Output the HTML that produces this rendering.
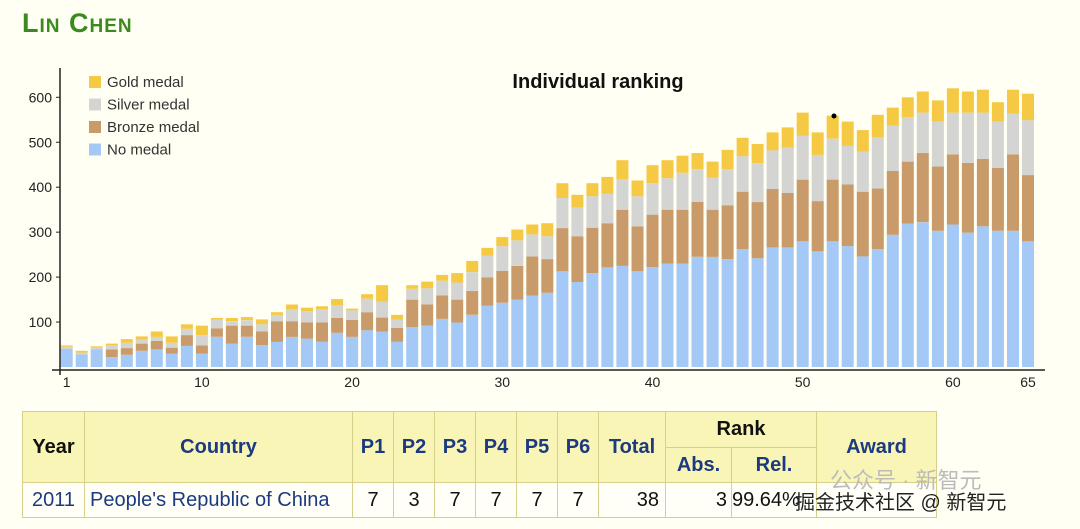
<!DOCTYPE html>
<html><head><meta charset="utf-8"><style>
body{margin:0;width:1080px;height:529px;background:#fffff4;overflow:hidden;font-family:"Liberation Sans",sans-serif;position:relative}
h1{position:absolute;left:22px;top:8px;margin:0;font-size:27px;color:#3a8a1e;font-variant:small-caps;font-weight:bold;letter-spacing:1px}
svg{position:absolute;left:0;top:0}
table{position:absolute;left:22px;top:411px;border-collapse:collapse;font-size:20px}
td,th{border:1.5px solid #d6d08a;padding:0;text-align:center}
th{background:#f9f5b6;color:#1c3a80;font-weight:bold}
td{background:#fffff8;color:#111;height:34px}
.l{color:#1c3a80}
.wm{position:absolute;left:795px;top:486px;font-size:20px;color:#222;font-family:"Liberation Sans","Noto Sans CJK SC",sans-serif}
.wm2{position:absolute;left:830px;top:463px;font-size:22px;color:#bbb;font-family:"Liberation Sans","Noto Sans CJK SC",sans-serif}
</style></head><body>
<h1>Lin Chen</h1>
<svg id="c" width="1080" height="400" font-family="Liberation Sans, sans-serif"></svg>
<table>
<tr><th rowspan="2" style="width:61px;height:70px;color:#111">Year</th><th rowspan="2" style="width:267px">Country</th><th rowspan="2" style="width:40px">P1</th><th rowspan="2" style="width:40px">P2</th><th rowspan="2" style="width:40px">P3</th><th rowspan="2" style="width:40px">P4</th><th rowspan="2" style="width:40px">P5</th><th rowspan="2" style="width:40px">P6</th><th rowspan="2" style="width:66px">Total</th><th colspan="2" style="height:35px;color:#111">Rank</th><th rowspan="2" style="width:119px">Award</th></tr>
<tr><th style="width:65px;height:34px">Abs.</th><th style="width:84px">Rel.</th></tr>
<tr><td class="l">2011</td><td class="l" style="text-align:left;padding-left:5px">People's Republic of China</td><td>7</td><td>3</td><td>7</td><td>7</td><td>7</td><td>7</td><td style="text-align:right;padding-right:6px">38</td><td style="text-align:right;padding-right:4px">3</td><td style="text-align:left">99.64%</td><td></td></tr>
</table>
<div class="wm2">公众号 · 新智元</div>
<div class="wm">掘金技术社区 @ 新智元</div>
<script>
var d=[[40,40,45,48],[28,28,32,36],[39,39,43,46],[22,39,48,52],[27,42,54,62],[36,52,61,68],[39,58,67,79],[30,43,54,68],[47,71,85,95],[30,48,71,92],[67,86,105,109],[52,92,102,109],[67,92,104,111],[49,79,95,106],[56,102,116,122],[67,102,128,139],[63,99,124,132],[56,99,128,135],[76,109,137,151],[67,105,126,130],[82,122,152,162],[79,110,145,182],[56,87,105,116],[89,150,174,182],[92,139,175,190],[107,159,192,205],[99,150,188,209],[116,169,211,236],[136,199,248,265],[143,214,269,289],[150,225,282,306],[159,246,295,317],[165,240,291,320],[213,309,376,409],[189,291,354,383],[209,310,380,409],[222,320,386,423],[225,350,418,460],[213,313,380,415],[222,339,409,449],[230,350,420,460],[230,350,432,470],[245,367,440,476],[245,350,421,457],[240,360,440,483],[262,390,469,510],[242,367,453,496],[266,396,482,522],[266,387,488,533],[280,417,515,566],[257,369,472,522],[280,417,508,559],[269,406,492,546],[246,390,479,527],[262,397,510,561],[294,436,537,577],[319,457,556,600],[322,476,566,613],[303,446,546,593],[317,473,566,620],[299,454,566,613],[313,463,566,617],[303,443,546,589],[303,473,564,617],[280,427,549,608]];
var col=["#a4c9f6","#c99b6b","#d4d4d2","#f6c944"];
var s="",Y=function(v){return 367-v*0.4495};
d.forEach(function(b,i){var x=66.7+i*15.02-6,p=0;b.forEach(function(v,k){if(v>p){s+='<rect x="'+x.toFixed(1)+'" y="'+Y(v).toFixed(1)+'" width="12" height="'+((v-p)*0.4495).toFixed(1)+'" fill="'+col[k]+'"/>';}p=Math.max(p,v);});});
s+='<line x1="60" y1="68" x2="60" y2="375" stroke="#222" stroke-width="1.5"/><line x1="52" y1="370" x2="1045" y2="370" stroke="#222" stroke-width="1.5"/>';
[100,200,300,400,500,600].forEach(function(v){var y=Y(v);s+='<line x1="56" y1="'+y+'" x2="60" y2="'+y+'" stroke="#222"/><text x="52" y="'+(y+5)+'" font-size="14" text-anchor="end" fill="#222">'+v+'</text>';});
[1,10,20,30,40,50,60,65].forEach(function(n){var x=66.7+(n-1)*15.02;s+='<text x="'+x+'" y="387" font-size="14" text-anchor="middle" fill="#222">'+n+'</text>';});
var lg=["Gold medal","Silver medal","Bronze medal","No medal"];var lc=[col[3],col[2],col[1],col[0]];
lg.forEach(function(t,i){var y=76+i*22.5;s+='<rect x="89" y="'+y+'" width="12" height="12" fill="'+lc[i]+'"/><text x="107" y="'+(y+11)+'" font-size="15" fill="#333">'+t+'</text>';});
s+='<text x="598" y="88" font-size="20" font-weight="bold" text-anchor="middle" fill="#111">Individual ranking</text><circle cx="834" cy="116" r="2.5" fill="#000"/>';
document.getElementById("c").innerHTML=s;
</script>
</body></html>
